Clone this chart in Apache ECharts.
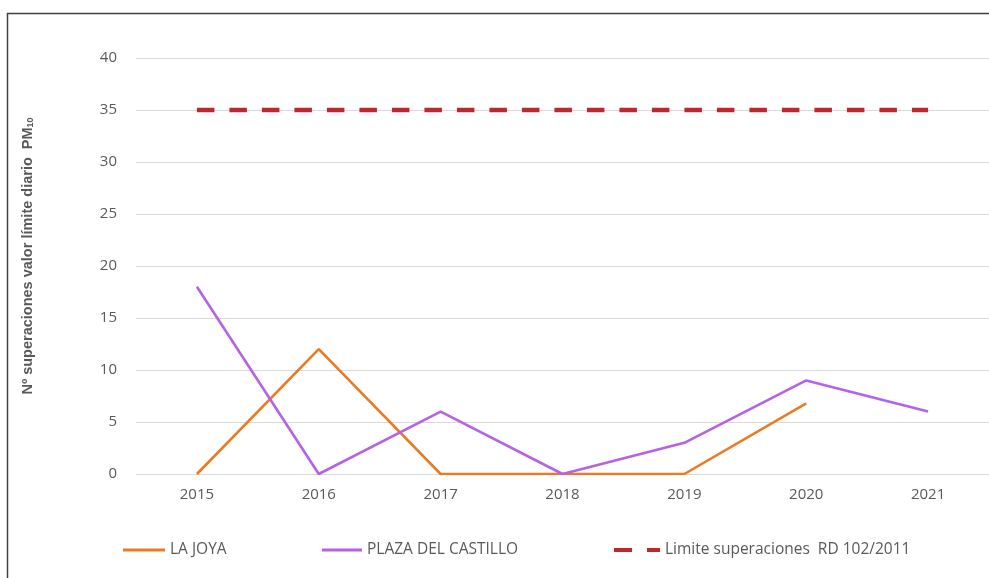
<!DOCTYPE html>
<html>
<head>
<meta charset="utf-8">
<script src="https://cdn.jsdelivr.net/npm/echarts@6/dist/echarts.min.js"></script>
<style>
html,body{margin:0;padding:0;background:#fff;}
#chart{width:989px;height:578px;}
</style>
</head>
<body>
<div id="chart"></div>
<script>
var years = ['2015','2016','2017','2018','2019','2020','2021'];
var laJoya = [0, 12, 0, 0, 0, 6.8, null];
var plazaCastillo = [18, 0, 6, 0, 3, 9, 6];
var limite = [35, 35, 35, 35, 35, 35, 35];
var yTicks = [0, 5, 10, 15, 20, 25, 30, 35, 40];

var names = ['LA JOYA', 'PLAZA DEL CASTILLO', 'Limite superaciones  RD 102/2011'];
var colors = ['#EC7A21', '#B662E4', '#C0262D'];

var chart = echarts.init(document.getElementById('chart'));
var legendText = {color:'#595959', fontSize:15.5, fontFamily:'Open Sans, Liberation Sans, sans-serif'};
function mkLegend(i, left, w, icon, h) {
  return {data:[{name:names[i], icon:icon}], left:left, top:542, itemWidth:w, itemHeight:h,
          textStyle:legendText, selectedMode:false, padding:0, itemGap:0, itemStyle:{color:colors[i]}};
}
chart.setOption({
  animation:false,
  backgroundColor:'#fff',
  grid:{left:136, top:58, width:855, height:416, containLabel:false},
  legend:[
    mkLegend(0, 123, 42, 'rect', 3),
    mkLegend(1, 322, 40, 'rect', 3),
    mkLegend(2, 614, 46, 'path://M0,0h18v4h-18z M33,0h13v4h-13z', 4)
  ],
  xAxis:{
    type:'category', data:years, boundaryGap:true,
    axisLine:{show:false}, axisTick:{show:false},
    axisLabel:{color:'#595959', fontSize:15, fontFamily:'Open Sans, sans-serif', margin:13},
    splitLine:{show:false}
  },
  yAxis:{
    type:'value', min:yTicks[0], max:yTicks[yTicks.length-1], interval:5,
    axisLine:{show:false}, axisTick:{show:false},
    axisLabel:{color:'#595959', fontSize:15, fontFamily:'Open Sans, sans-serif', margin:19},
    splitLine:{lineStyle:{color:'#D9D9D9', width:1}}
  },
  graphic:[
    {type:'rect', shape:{x:7.5, y:13.5, width:1000, height:700}, style:{fill:null, stroke:'#404040', lineWidth:1.5}, silent:true},
    {type:'text', x:28, y:256, rotation:Math.PI/2,
     style:{text:'Nº superaciones valor límite diario  PM{s|10}', fill:'#595959',
       font:'bold 14.5px Liberation Sans, Arial, sans-serif', align:'center', verticalAlign:'middle',
       rich:{s:{fontSize:9, fontWeight:'bold', fill:'#595959', padding:[6,0,0,0], verticalAlign:'bottom'}}}}
  ],
  series:[
    {name:names[0], type:'line', data:laJoya, color:colors[0], symbol:'none',
     lineStyle:{width:2.6, color:colors[0]}, connectNulls:false},
    {name:names[1], type:'line', data:plazaCastillo, color:colors[1], symbol:'none',
     lineStyle:{width:2.6, color:colors[1]}},
    {name:names[2], type:'line', data:limite, color:colors[2], symbol:'none',
     lineStyle:{width:4.5, color:colors[2], type:[17.5,15]}}
  ]
});
</script>
</body>
</html>
